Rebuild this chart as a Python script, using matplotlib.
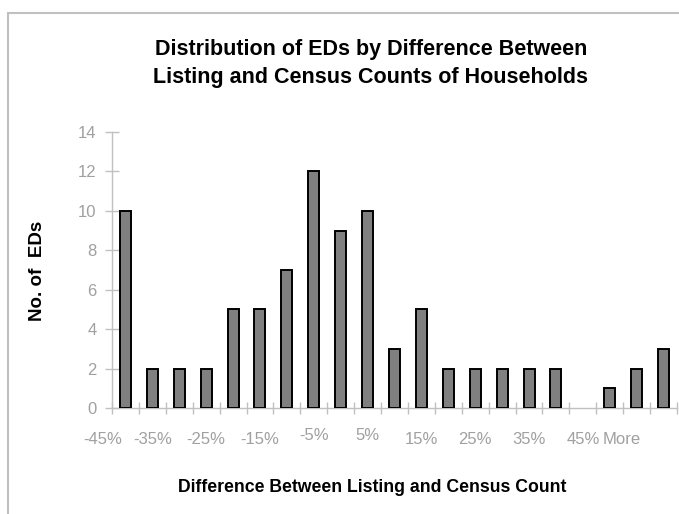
import numpy as np
import matplotlib
matplotlib.use("Agg")
import matplotlib.pyplot as plt
from matplotlib.patches import Rectangle

plt.rcParams['font.family'] = ['Liberation Sans', 'DejaVu Sans']

# histogram bins (upper edge of each bin) and counts of EDs
bins = ['-45%', '-40%', '-35%', '-30%', '-25%', '-20%', '-15%', '-10%', '-5%', '0%',
        '5%', '10%', '15%', '20%', '25%', '30%', '35%', '40%', '45%', '50%', 'More']
counts = [10, 2, 2, 2, 5, 5, 7, 12, 9, 10, 3, 5, 2, 2, 2, 2, 2, 0, 1, 2, 3]

grey_axis = '#c0c0c0'
grey_text = '#a0a0a0'

fig = plt.figure(figsize=(6.79, 5.14), dpi=100)
ax = fig.add_axes([112 / 679, 1 - 408 / 514, 565 / 679, 276 / 514])

x = np.arange(len(bins))
# empty bins get no outline
edge_w = [1.4 if c > 0 else 0 for c in counts]
ax.bar(x, counts, width=0.41, color='#808080', edgecolor='black', linewidth=edge_w, zorder=3)

ax.set_xlim(-0.5, len(bins) - 0.5)
ax.set_ylim(0, 14)
ax.set_yticks(range(0, 15, 2))
ax.tick_params(axis='y', direction='inout', length=10, width=1, color=grey_axis,
               labelcolor=grey_text, labelsize=12, pad=6)

# category ticks sit between the bars
ax.set_xticks(np.arange(len(bins) + 1) - 0.5)
ax.set_xticklabels([])
ax.tick_params(axis='x', direction='inout', length=8, width=1, color=grey_axis)

for side in ['top', 'right']:
    ax.spines[side].set_visible(False)
for side in ['left', 'bottom']:
    ax.spines[side].set_color(grey_axis)
    ax.spines[side].set_linewidth(1)

# every other bin label, drawn one slot to the left like the spreadsheet did
shown = list(range(0, len(bins), 2))
label_x = [i - 1.0 for i in shown]
label_x[0] = -0.83
label_x[-1] = 18.46
for i, lx in zip(shown, label_x):
    dy = 5 if bins[i] in ('-5%', '5%') else 0
    ax.annotate(bins[i], xy=(lx, 0), xycoords=('data', 'axes fraction'),
                xytext=(0, -32 + dy), textcoords='offset pixels',
                ha='center', va='center', fontsize=12, color=grey_text)

fig.text(371 / 679, 1 - 50 / 514, 'Distribution of EDs by Difference Between',
         ha='center', va='center', fontsize=15.5, fontweight='bold')
fig.text(371 / 679, 1 - 78 / 514, 'Listing and Census Counts of Households',
         ha='center', va='center', fontsize=15.5, fontweight='bold')
fig.text(372 / 679, 1 - 487 / 514, 'Difference Between Listing and Census Count',
         ha='center', va='center', fontsize=12.7, fontweight='bold')
fig.text(37 / 679, 1 - 271 / 514, 'No. of  EDs', rotation=90,
         ha='center', va='center', fontsize=13.5, fontweight='bold')

# chart area border
fig.patches.append(Rectangle((8 / 679, -0.1), 1.0, 1 - 13 / 514 + 0.1,
                             transform=fig.transFigure, fill=False,
                             edgecolor=grey_axis, linewidth=1.5))

fig.savefig('out.png', dpi=100)
